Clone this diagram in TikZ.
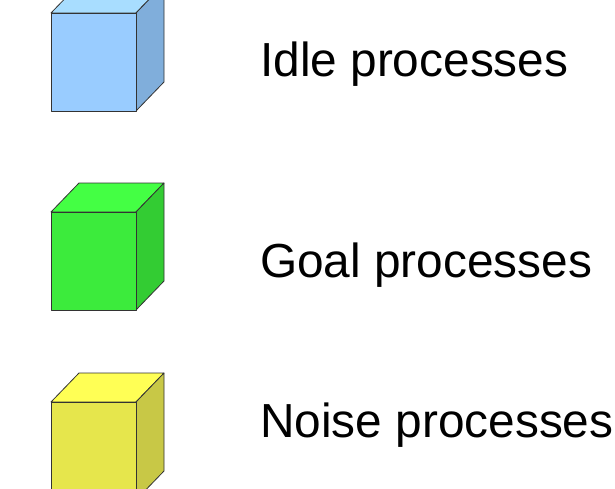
\documentclass[tikz,border=0pt]{standalone}
\usepackage{fontspec}
\setmainfont{Liberation Sans}
\definecolor{idlefront}{HTML}{99CCFF}
\definecolor{idletop}{HTML}{A8DDFF}
\definecolor{idleside}{HTML}{80AEDB}
\definecolor{goalfront}{HTML}{3CEB3C}
\definecolor{goaltop}{HTML}{44FF44}
\definecolor{goalside}{HTML}{33CC33}
\definecolor{noisefront}{HTML}{E6E64C}
\definecolor{noisetop}{HTML}{FFFF55}
\definecolor{noiseside}{HTML}{C8C846}
\begin{document}
\begin{tikzpicture}[x=1pt,y=-1pt,cubeline/.style={draw=black!80,line width=0.8pt,line join=round},legendtext/.style={anchor=base west,inner sep=0pt,font=\fontsize{47.8}{52}\selectfont}]
  \useasboundingbox (0,0) rectangle (615,489);
  \clip (0,0) rectangle (615,489);
  \foreach \y/\c in {13/idle,212/goal,402/noise} {
    \draw[cubeline,fill=\c top] (51,\y) -- ++(28,-29) -- ++(85,0) -- ++(-28,29) -- cycle;
    \draw[cubeline,fill=\c side] (136,\y) -- ++(28,-29) -- ++(0,98) -- ++(-28,29) -- cycle;
    \draw[cubeline,fill=\c front] (51,\y) rectangle ++(85,98);
  }
  \node[legendtext] (idle) at (260,77) {Idle processes};
  \node[legendtext] (goal) at (260,277) {Goal processes};
  \node[legendtext] (noise) at (260,437) {Noise processes};
\end{tikzpicture}
\end{document}
